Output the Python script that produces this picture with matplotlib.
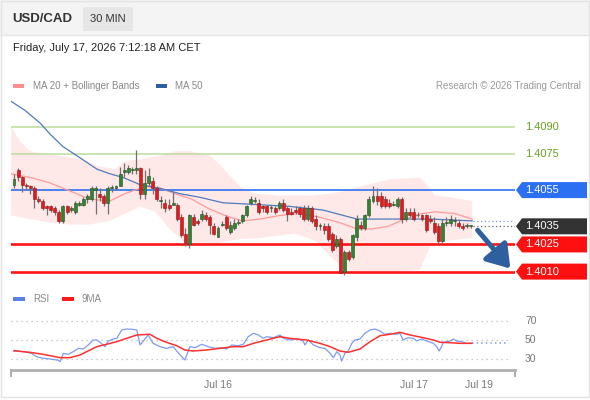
import numpy as np
import matplotlib
matplotlib.use("Agg")
import matplotlib.pyplot as plt
from matplotlib.patches import Rectangle, Polygon

plt.rcParams['font.family'] = ['Liberation Sans', 'DejaVu Sans']

# 30 min candles, index 0 = first candle on the left
opens = [1.4058, 1.4066, 1.4062, 1.4058, 1.4057, 1.4056, 1.4050, 1.4049, 1.4046, 1.4046,
         1.4045, 1.4043, 1.4038, 1.4046, 1.4044, 1.4043, 1.4047, 1.4047, 1.4050, 1.4050,
         1.4055, 1.4053, 1.4052, 1.4048, 1.4056, 1.4056, 1.4057, 1.4065, 1.4065, 1.4066,
         1.4066, 1.4067, 1.4053, 1.4059, 1.4060, 1.4056, 1.4049, 1.4048, 1.4047, 1.4047,
         1.4047, 1.4040, 1.4031, 1.4025, 1.4040, 1.4038, 1.4039, 1.4041, 1.4040, 1.4035,
         1.4029, 1.4036, 1.4040, 1.4032, 1.4034, 1.4037, 1.4038, 1.4041, 1.4048, 1.4049,
         1.4048, 1.4046, 1.4046, 1.4045, 1.4045, 1.4045, 1.4048, 1.4045, 1.4043, 1.4044,
         1.4045, 1.4045, 1.4039, 1.4045, 1.4039, 1.4035, 1.4035, 1.4035, 1.4031, 1.4024,
         1.4028, 1.4010, 1.4021, 1.4018, 1.4029, 1.4036, 1.4034, 1.4041, 1.4049, 1.4052,
         1.4052, 1.4050, 1.4048, 1.4047, 1.4046, 1.4050, 1.4039, 1.4043, 1.4043, 1.4041,
         1.4041, 1.4041, 1.4039, 1.4037, 1.4035, 1.4027, 1.4037, 1.4037, 1.4038, 1.4037,
         1.4035, 1.4035, 1.4035]
closes = [1.4061, 1.4062, 1.4058, 1.4057, 1.4056, 1.4050, 1.4049, 1.4045, 1.4045, 1.4044,
          1.4043, 1.4038, 1.4046, 1.4043, 1.4045, 1.4048, 1.4048, 1.4050, 1.4052, 1.4056,
          1.4056, 1.4051, 1.4048, 1.4056, 1.4056, 1.4057, 1.4064, 1.4066, 1.4067, 1.4066,
          1.4067, 1.4053, 1.4059, 1.4063, 1.4056, 1.4050, 1.4049, 1.4045, 1.4045, 1.4048,
          1.4039, 1.4030, 1.4026, 1.4041, 1.4036, 1.4037, 1.4042, 1.4039, 1.4036, 1.4031,
          1.4034, 1.4036, 1.4034, 1.4036, 1.4037, 1.4037, 1.4041, 1.4046, 1.4050, 1.4049,
          1.4043, 1.4045, 1.4043, 1.4045, 1.4043, 1.4048, 1.4044, 1.4042, 1.4042, 1.4043,
          1.4042, 1.4039, 1.4045, 1.4038, 1.4035, 1.4035, 1.4033, 1.4028, 1.4022, 1.4028,
          1.4009, 1.4021, 1.4017, 1.4030, 1.4039, 1.4034, 1.4041, 1.4050, 1.4052, 1.4049,
          1.4046, 1.4046, 1.4046, 1.4047, 1.4050, 1.4039, 1.4043, 1.4041, 1.4039, 1.4041,
          1.4039, 1.4033, 1.4038, 1.4032, 1.4027, 1.4037, 1.4037, 1.4039, 1.4038, 1.4035,
          1.4034, 1.4035, 1.4035]
highs = [1.4064, 1.4067, 1.4063, 1.4059, 1.4058, 1.4057, 1.4052, 1.4050, 1.4047, 1.4047,
         1.4046, 1.4044, 1.4047, 1.4047, 1.4046, 1.4049, 1.4049, 1.4051, 1.4053, 1.4057,
         1.4057, 1.4056, 1.4053, 1.4057, 1.4058, 1.4058, 1.4068, 1.4070, 1.4069, 1.4068,
         1.4077, 1.4068, 1.4066, 1.4067, 1.4062, 1.4057, 1.4052, 1.4050, 1.4050, 1.4054,
         1.4048, 1.4042, 1.4034, 1.4042, 1.4042, 1.4039, 1.4044, 1.4043, 1.4041, 1.4037,
         1.4035, 1.4038, 1.4041, 1.4038, 1.4039, 1.4039, 1.4042, 1.4047, 1.4052, 1.4051,
         1.4050, 1.4047, 1.4047, 1.4047, 1.4046, 1.4049, 1.4050, 1.4046, 1.4045, 1.4046,
         1.4046, 1.4047, 1.4047, 1.4046, 1.4041, 1.4037, 1.4037, 1.4037, 1.4032, 1.4030,
         1.4029, 1.4022, 1.4022, 1.4031, 1.4041, 1.4038, 1.4042, 1.4052, 1.4057, 1.4056,
         1.4054, 1.4052, 1.4050, 1.4049, 1.4051, 1.4051, 1.4045, 1.4045, 1.4045, 1.4043,
         1.4042, 1.4042, 1.4041, 1.4040, 1.4037, 1.4039, 1.4040, 1.4041, 1.4040, 1.4039,
         1.4037, 1.4037, 1.4036]
lows = [1.4056, 1.4060, 1.4054, 1.4055, 1.4053, 1.4045, 1.4048, 1.4044, 1.4041, 1.4043,
        1.4041, 1.4037, 1.4037, 1.4042, 1.4043, 1.4042, 1.4046, 1.4046, 1.4048, 1.4049,
        1.4042, 1.4049, 1.4046, 1.4042, 1.4054, 1.4055, 1.4057, 1.4062, 1.4064, 1.4064,
        1.4064, 1.4050, 1.4050, 1.4057, 1.4053, 1.4049, 1.4045, 1.4043, 1.4044, 1.4047,
        1.4038, 1.4029, 1.4024, 1.4023, 1.4035, 1.4036, 1.4038, 1.4038, 1.4031, 1.4030,
        1.4029, 1.4035, 1.4033, 1.4031, 1.4033, 1.4036, 1.4037, 1.4040, 1.4047, 1.4048,
        1.4042, 1.4043, 1.4042, 1.4043, 1.4042, 1.4044, 1.4043, 1.4038, 1.4041, 1.4042,
        1.4040, 1.4038, 1.4038, 1.4037, 1.4033, 1.4033, 1.4031, 1.4027, 1.4021, 1.4023,
        1.4009, 1.4008, 1.4016, 1.4017, 1.4027, 1.4033, 1.4033, 1.4040, 1.4048, 1.4047,
        1.4045, 1.4045, 1.4045, 1.4046, 1.4045, 1.4037, 1.4038, 1.4040, 1.4038, 1.4040,
        1.4038, 1.4032, 1.4037, 1.4031, 1.4026, 1.4026, 1.4035, 1.4035, 1.4035, 1.4034,
        1.4033, 1.4034, 1.4034]

# moving averages / bands (candle index, price)
ma20_t = [-0.7, 3.9, 8.8, 13.7, 18.6, 23.5, 27.2, 32.1, 35.8, 39.5, 43.6, 47.5, 51.7, 55.9,
          60.3, 65.2, 70.1, 75.0, 79.9, 84.1, 87.7, 91.7, 95.8, 100.0, 103.2, 108.1, 112.3]
ma20 = [1.4064, 1.4062, 1.4059, 1.40545, 1.4050, 1.4049, 1.4053, 1.4057, 1.4056, 1.4053,
        1.4050, 1.4045, 1.4041, 1.4038, 1.4039, 1.4041, 1.4042, 1.4040, 1.4037, 1.40335,
        1.40335, 1.4035, 1.4039, 1.4042, 1.4043, 1.4042, 1.4039]
ma50_t = [-0.7, 2.7, 6.4, 8.8, 12.0, 15.4, 20.3, 23.5, 26.7, 30.9, 35.8, 40.7, 45.6, 51.2,
          59.6, 67.6, 75.7, 84.1, 92.2, 102.0, 112.3]
ma50 = [1.4104, 1.4099, 1.4092, 1.4086, 1.4079, 1.4074, 1.40666, 1.4064, 1.4062, 1.4058,
        1.4056, 1.4053, 1.4051, 1.4048, 1.4047, 1.4046, 1.4044, 1.4039, 1.4039, 1.4039, 1.4038]
bb_up_t = [-0.7, 1.5, 3.9, 7.6, 11.3, 16.2, 21.1, 24.8, 27.2, 30.9, 35.8, 39.5, 43.1, 48.0,
           50.5, 52.9, 55.4, 59.1, 65.2, 72.5, 77.5, 81.1, 84.8, 88.5, 92.2, 99.5, 101.5,
           103.2, 106.9, 112.3]
bb_up = [1.4090, 1.4082, 1.40765, 1.4075, 1.4074, 1.4072, 1.4068, 1.40665, 1.4071, 1.4072,
         1.4074, 1.40765, 1.40765, 1.4074, 1.4069, 1.4063, 1.4057, 1.4053, 1.4052, 1.4052,
         1.4053, 1.40545, 1.4057, 1.4059, 1.4061, 1.4062, 1.4057, 1.4052, 1.4051, 1.4049]
bb_lo_t = [-0.7, 3.9, 8.8, 13.7, 18.6, 23.5, 27.2, 30.9, 34.6, 38.2, 41.9, 45.6, 50.5, 55.4,
           60.3, 65.2, 68.9, 73.8, 77.5, 81.1, 84.8, 94.6, 99.5, 102.0, 105.6, 112.3]
bb_lo = [1.4041, 1.4039, 1.4037, 1.4036, 1.4036, 1.4038, 1.4042, 1.4046, 1.4043, 1.40335,
         1.4026, 1.4024, 1.4026, 1.4028, 1.40285, 1.4030, 1.4031, 1.4027, 1.40185, 1.4011,
         1.4010, 1.4010, 1.4011, 1.4024, 1.4027, 1.40285]

rsi_t = [0, 2.3, 4.3, 5.6, 7.2, 8.8, 10.9, 11.3, 12.1, 13.3, 14.5, 15.8, 17.0, 18.2, 19.4,
         20.3, 21.1, 22.3, 23.1, 24.3, 25.2, 26.4, 27.6, 28.8, 30.1, 30.9, 32.1, 32.9, 34.1,
         35.8, 37.4, 39.0, 40.7, 41.9, 43.1, 44.4, 46.0, 47.6, 49.3, 50.9, 52.1, 53.4, 55.0,
         56.2, 57.4, 58.7, 59.9, 61.1, 61.9, 63.6, 65.2, 66.0, 67.6, 69.3, 70.9, 71.3, 72.1,
         73.4, 75.0, 76.2, 77.5, 78.3, 79.1, 79.9, 80.3, 81.1, 81.9, 82.8, 83.6, 84.8, 86.0,
         87.3, 88.5, 89.7, 90.9, 92.2, 93.8, 94.6, 95.4, 96.6, 97.9, 98.7, 99.9, 101.2, 102.8,
         103.6, 104.2, 104.8, 105.2, 106.1, 106.9, 107.7, 108.5, 109.7, 111.0, 112.2]
rsi = [38.1, 37.4, 35.6, 31.9, 30.2, 29.5, 28.1, 26.5, 35.6, 34.5, 37.4, 41.0, 40.3, 44.6, 50.0,
       50.0, 47.5, 42.8, 48.9, 51.1, 51.8, 60.8, 61.9, 61.6, 60.8, 44.6, 51.1, 55.4, 46.4,
       42.8, 41.0, 42.8, 33.8, 28.4, 42.8, 41.7, 45.4, 42.8, 41.0, 41.7, 40.3, 44.6, 43.8,
       45.4, 53.6, 57.2, 55.4, 51.8, 53.6, 52.5, 55.4, 51.8, 50.0, 51.1, 48.9, 44.6, 50.0,
       44.6, 41.7, 41.0, 35.6, 30.9, 37.4, 33.8, 27.3, 35.6, 38.1, 46.4, 50.0, 51.1, 57.2,
       60.8, 61.9, 59.7, 56.2, 57.2, 56.2, 57.2, 50.0, 52.5, 51.8, 48.9, 51.1, 48.9, 46.4,
       42.8, 38.1, 42.8, 47.5, 48.2, 48.9, 51.1, 48.9, 48.2, 46.4, 46.4]
ma9_t = [0, 3.9, 7.2, 11.3, 13.7, 16.2, 17.8, 20.3, 22.7, 25.2, 27.6, 30.1, 33.3, 35.0, 37.4,
         39.9, 41.9, 43.9, 47.2, 50.5, 53.8, 56.2, 58.7, 61.9, 65.2, 67.6, 71.7, 75.0, 77.5,
         79.9, 81.9, 84.8, 87.3, 89.7, 92.2, 94.6, 97.1, 100.3, 102.8, 104.4, 106.9, 109.3, 112.2]
ma9 = [38.4, 36.7, 34.5, 30.9, 30.9, 33.8, 37.4, 42.8, 45.4, 48.2, 51.8, 55.4, 56.2, 51.8,
       47.5, 43.8, 39.2, 38.1, 39.2, 41.0, 42.8, 42.8, 46.4, 50.0, 53.6, 51.8, 50.0, 46.4,
       42.8, 38.1, 36.7, 40.3, 48.2, 54.6, 56.2, 58.3, 55.4, 52.5, 50.0, 47.5, 47.1, 46.4, 46.4]

levels_green = [1.4090, 1.4075]
level_pivot = 1.4055
levels_red = [1.4025, 1.4010]
last_price = 1.4035
date_ticks = [50, 98, 114]
date_labels = ["Jul 16", "Jul 17", "Jul 19"]

W, H = 590, 400
fig = plt.figure(figsize=(W / 100, H / 100), dpi=100)
fig.patch.set_facecolor("white")


def frac(x0, y0, x1, y1):
    # pixel box (top-left origin) -> figure fraction rect
    return [x0 / W, 1 - y1 / H, (x1 - x0) / W, (y1 - y0) / H]


# background decorations
bg = fig.add_axes([0, 0, 1, 1], zorder=0)
bg.set_xlim(0, W)
bg.set_ylim(H, 0)
bg.axis("off")
bg.add_patch(Rectangle((0, 0), W, 35, facecolor="#f4f4f4", edgecolor="none"))
bg.plot([0, W], [35, 35], color="#e6e6e6", lw=1)
bg.add_patch(Rectangle((0.5, 0.5), W - 2, H - 4, facecolor="none", edgecolor="#e3e3e3", lw=1))
bg.text(12, 19, "USD/CAD", fontsize=9.5, fontweight="bold", color="#333333", va="center")
bg.add_patch(Rectangle((83, 7), 50, 24, facecolor="#e6e6e6", edgecolor="none"))
bg.text(108, 19.5, "30 MIN", fontsize=8, color="#333333", va="center", ha="center")
bg.text(13, 48, "Friday, July 17, 2026 7:12:18 AM CET", fontsize=8, color="#222222", va="center")

bg.add_patch(Rectangle((13, 84), 11, 4, facecolor="#ff8c8c", edgecolor="none"))
bg.text(33, 86, "MA 20 + Bollinger Bands", fontsize=7, color="#888888", va="center")
bg.add_patch(Rectangle((156, 84), 11, 4, facecolor="#2f5f9e", edgecolor="none"))
bg.text(175, 86, "MA 50", fontsize=7, color="#888888", va="center")
bg.text(581, 86, "Research \u00a9 2026 Trading Central", fontsize=7, color="#999999",
        va="center", ha="right")

bg.add_patch(Rectangle((13, 297), 12, 4, facecolor="#5b7fe8", edgecolor="none"))
bg.text(33, 299, "RSI", fontsize=7, color="#888888", va="center")
bg.add_patch(Rectangle((62, 297), 12, 4, facecolor="#ff1a1a", edgecolor="none"))
bg.text(82, 299, "9MA", fontsize=7, color="#888888", va="center")

# price panel
ax = fig.add_axes(frac(11, 95, 515, 285), zorder=1)
ax.set_facecolor("none")
ax.set_xlim(-0.735, 122.8)
ax.set_ylim(1.40026, 1.41075)
ax.axis("off")

ax.fill(np.concatenate([bb_up_t, bb_lo_t[::-1]]), np.concatenate([bb_up, bb_lo[::-1]]),
        color="#ffe5e5", alpha=0.85, lw=0, zorder=1)
ax.plot(ma20_t, ma20, color="#ff9a9a", lw=0.9, zorder=2)
ax.plot(ma50_t, ma50, color="#4f7bbd", lw=0.9, zorder=2)

for lv in levels_green:
    ax.axhline(lv, color="#bcdc9c", lw=1.1, zorder=1.5)
ax.axhline(level_pivot, color="#2f6ff0", lw=1.2, zorder=1.5)
for lv in levels_red:
    ax.axhline(lv, color="#ff1414", lw=1.9, zorder=1.5)

t = np.arange(len(closes))
o = np.array(opens)
c = np.array(closes)
up = c >= o
ax.vlines(t, lows, highs, color="#707070", lw=0.9, zorder=3)
body_lo = np.minimum(o, c)
body_h = np.maximum(np.abs(c - o), 0.00005)
ax.bar(t[up], body_h[up], bottom=body_lo[up], width=0.72, color="#2e862e",
       edgecolor="#2a4a2a", lw=0.4, zorder=4)
ax.bar(t[~up], body_h[~up], bottom=body_lo[~up], width=0.72, color="#e3191c",
       edgecolor="#8a1a1a", lw=0.4, zorder=4)

# dotted extensions to the price scale
ax.plot([t[-1] + 0.6, 122.8], [ma50[-1], ma50[-1]], ls=(0, (1, 2)), color="#7f9cc8", lw=0.9)
ax.plot([t[-1] + 0.6, 122.8], [last_price, last_price], ls=(0, (1, 2)), color="#666666", lw=0.9)

ax.annotate("", xy=(122.1, 1.40105), xytext=(113.2, 1.4034),
            arrowprops=dict(arrowstyle="-|>,head_length=0.9,head_width=0.6",
                            color="#2e5f9e", lw=3.6, mutation_scale=15),
            annotation_clip=False, zorder=6)

# RSI panel
rx = fig.add_axes(frac(11, 300, 515, 370), zorder=1)
rx.set_facecolor("none")
rx.set_xlim(-0.735, 122.8)
rx.set_ylim(17.6, 93.2)
for s in ["top", "left", "right"]:
    rx.spines[s].set_visible(False)
rx.spines["bottom"].set_color("#b0b0b0")
rx.spines["bottom"].set_linewidth(2)
rx.set_yticks([])
rx.set_xticks(date_ticks)
rx.set_xticklabels(date_labels, fontsize=7.5, color="#777777")
rx.tick_params(axis="x", length=0, pad=7)
for g in [30, 50, 70]:
    rx.axhline(g, xmax=0.986, color="#bbbbbb", lw=0.9, ls=(0, (1, 3)))
rx.plot(rsi_t, rsi, color="#7f9bf0", lw=0.9, zorder=3)
rx.plot(ma9_t, ma9, color="#ff3030", lw=1.1, zorder=4)
rx.plot([rsi_t[-1], 120.8], [rsi[-1], rsi[-1]], color="#7f9bf0", lw=1.1, ls=(0, (1, 2)))

# overlay: price boxes and scale labels
fg = fig.add_axes([0, 0, 1, 1], zorder=5)
fg.set_facecolor("none")
fg.set_xlim(0, W)
fg.set_ylim(H, 0)
fg.axis("off")


def py(price):
    return H - ax.transData.transform((0, price))[1]


def ry(val):
    return H - rx.transData.transform((0, val))[1]


for lv in levels_green:
    fg.text(525, py(lv), f"{lv:.4f}", fontsize=8, color="#6aa222", va="center")


def price_box(price, color):
    yc = py(price)
    fg.add_patch(Polygon([(516, yc), (522, yc - 8), (587, yc - 8), (587, yc + 8), (522, yc + 8)],
                         closed=True, facecolor=color, edgecolor="none"))
    fg.text(525, yc, f"{price:.4f}", fontsize=8, color="white", va="center")


price_box(level_pivot, "#2b6ff2")
price_box(last_price, "#333333")
for lv in levels_red:
    price_box(lv, "#ff1010")

for g in [70, 50, 30]:
    fg.text(525, ry(g), str(g), fontsize=7.5, color="#777777", va="center")
fg.plot([11, 11], [370, 376], color="#b0b0b0", lw=1.5)
fg.plot([515, 515], [370, 376], color="#b0b0b0", lw=1.5)

fig.savefig("out.png", dpi=100)
